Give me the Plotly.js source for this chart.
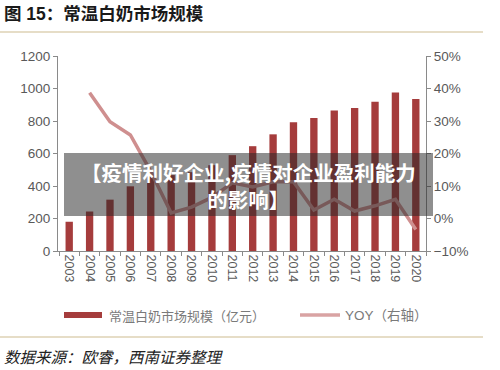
<!DOCTYPE html>
<html>
<head>
<meta charset="utf-8">
<script src="https://cdn.plot.ly/plotly-3.0.1.min.js"></script>
<style>html,body{margin:0;padding:0;background:#fff;}#chart{width:500px;height:370px;}</style>
</head>
<body>
<div id="chart"></div>
<script>
const years = ['2003','2004','2005','2006','2007','2008','2009','2010','2011','2012','2013','2014','2015','2016','2017','2018','2019','2020'];
const marketSize = [180, 243, 316, 398, 458, 467, 485, 528, 590, 645, 718, 792, 818, 864, 880, 919, 975, 935];
const yoy = [null, 0.387, 0.298, 0.257, 0.145, 0.017, 0.035, 0.065, 0.110, 0.097, 0.113, 0.113, 0.026, 0.059, 0.023, 0.039, 0.059, -0.034];
const titleText = '图 15：常温白奶市场规模';
const barName = '常温白奶市场规模（亿元）';
const lineName = 'YOY（右轴）';
const sourceText = '数据来源：欧睿，西南证券整理';
const bannerLine1 = '【疫情利好企业,疫情对企业盈利能力';
const bannerLine2 = '的影响】';

const barColor = '#a53c3c';
const lineColor = '#cf8f8f';
const axisColor = '#8a8a8a';
const tickColor = '#595959';
const cjk = '"Liberation Sans", "Noto Sans CJK SC", sans-serif';

// plot area: x 58..426, y 56..251
const L = 58, R = 426, T = 56, B = 251;
const px = v => (v - L) / (R - L);
const py = v => (B - v) / (B - T);

const traces = [
  {type: 'bar', x: years, y: marketSize, name: barName, marker: {color: barColor}, yaxis: 'y', hoverinfo: 'skip'},
  {type: 'scatter', mode: 'lines', x: years, y: yoy, name: lineName, yaxis: 'y2',
   line: {color: lineColor, width: 3.5}, connectgaps: false, hoverinfo: 'skip'}
];

const layout = {
  width: 500, height: 370,
  margin: {l: L, r: 500 - R, t: T, b: 370 - B, pad: 0},
  paper_bgcolor: '#fff', plot_bgcolor: '#fff',
  showlegend: false,
  bargap: 0.64,
  font: {family: cjk, color: tickColor, size: 13},
  title: {text: '<b>' + titleText + '</b>', x: 0.008, xanchor: 'left', y: 0.962, yanchor: 'middle',
          font: {family: '"Liberation Sans", "Noto Sans CJK SC", sans-serif', size: 17.5, color: '#1a1a1a'}},
  xaxis: {
    type: 'category', range: [-0.55, 17.5],
    showline: true, linecolor: axisColor, linewidth: 1,
    ticks: 'outside', tickson: 'boundaries', ticklen: 4, tickcolor: axisColor,
    tickangle: 90, tickfont: {size: 12.5, color: tickColor},
    showgrid: false, zeroline: false, fixedrange: true
  },
  yaxis: {
    range: [0, 1200], dtick: 200, tick0: 0,
    showline: true, linecolor: axisColor, linewidth: 1,
    ticks: 'outside', ticklen: 4, tickcolor: axisColor,
    tickfont: {size: 13.5, color: tickColor},
    showgrid: false, zeroline: false, fixedrange: true
  },
  yaxis2: {
    overlaying: 'y', side: 'right', range: [-0.1, 0.5], dtick: 0.1, tick0: 0,
    tickformat: '.0%',
    showline: true, linecolor: axisColor, linewidth: 1,
    ticks: 'outside', ticklen: 4, tickcolor: axisColor,
    tickfont: {size: 13.5, color: tickColor},
    showgrid: false, zeroline: false, fixedrange: true
  },
  shapes: [
    {type: 'line', xref: 'paper', yref: 'paper', x0: px(0), x1: px(483), y0: py(32), y1: py(32), line: {color: '#cdbb8f', width: 1.2}},
    {type: 'line', xref: 'paper', yref: 'paper', x0: px(0), x1: px(483), y0: py(337), y1: py(337), line: {color: '#cdbb8f', width: 1.2}},
    // legend swatches
    {type: 'rect', xref: 'paper', yref: 'paper', x0: px(64), x1: px(102), y0: py(318), y1: py(312), fillcolor: barColor, line: {width: 0}},
    {type: 'line', xref: 'paper', yref: 'paper', x0: px(300), x1: px(340), y0: py(315), y1: py(315), line: {color: '#d9a3a3', width: 3.5}},
    // banner
    {type: 'rect', xref: 'paper', yref: 'paper', x0: px(64), x1: px(433), y0: py(216), y1: py(153), fillcolor: 'rgba(40,40,40,0.52)', line: {width: 0}, layer: 'above'}
  ],
  annotations: [
    {xref: 'paper', yref: 'paper', x: px(107), y: py(315), xanchor: 'left', yanchor: 'middle', showarrow: false,
     text: barName, font: {family: '"Noto Sans CJK SC", sans-serif', size: 13, color: '#7a7a7a'}},
    {xref: 'paper', yref: 'paper', x: px(343), y: py(315), xanchor: 'left', yanchor: 'middle', showarrow: false,
     text: lineName, font: {family: '"Liberation Sans", "Noto Sans CJK SC", sans-serif', size: 13.5, color: '#7a7a7a'}},
    {xref: 'paper', yref: 'paper', x: px(2), y: py(356), xanchor: 'left', yanchor: 'middle', showarrow: false,
     text: '<i>' + sourceText + '</i>', font: {family: '"Noto Sans CJK SC", sans-serif', size: 15.5, color: '#222'}},
    {xref: 'paper', yref: 'paper', x: px(248), y: py(185), xanchor: 'center', yanchor: 'middle', showarrow: false, align: 'center',
     text: '<b>' + bannerLine1 + '<br>' + bannerLine2 + '</b>', font: {family: '"Noto Sans CJK SC", sans-serif', size: 20.5, color: '#ffffff'}}
  ]
};

Plotly.newPlot('chart', traces, layout, {displayModeBar: false, staticPlot: true});
</script>
</body>
</html>
